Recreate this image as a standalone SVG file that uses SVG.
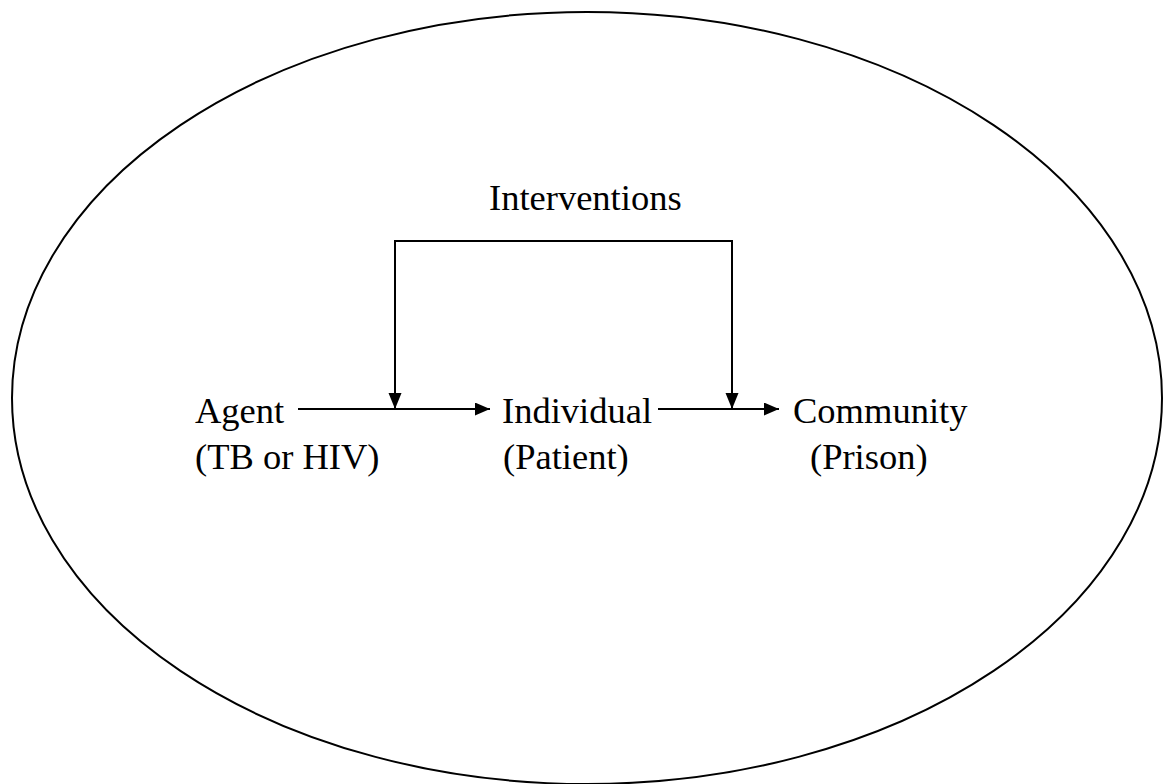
<svg xmlns="http://www.w3.org/2000/svg" width="1163" height="784" viewBox="0 0 1163 784">
<style>
.t{font-family:'Liberation Serif','Times New Roman','DejaVu Serif',serif;font-size:36.5px;fill:#000}
.c{stroke:#000;stroke-width:2;fill:none}
</style>
<defs>
<marker id="ah" markerWidth="15" markerHeight="13" refX="15" refY="6.5" orient="auto" markerUnits="userSpaceOnUse">
<path d="M0,0 L15,6.5 L0,13 Z" fill="#000"/>
</marker>
</defs>
<rect width="1163" height="784" fill="#fff"/>
<g id="boundary">
<ellipse cx="587" cy="398" rx="575" ry="386" fill="none" stroke="#000" stroke-width="2"/>
</g>
<g id="interventions"><text class="t" font-family="Liberation Serif, serif" x="489" y="210">Interventions</text></g>
<g id="agent"><text class="t" font-family="Liberation Serif, serif" x="195" y="423">Agent</text><text class="t" font-family="Liberation Serif, serif" x="195" y="469">(TB or HIV)</text></g>
<g id="individual"><text class="t" font-family="Liberation Serif, serif" x="502" y="423">Individual</text><text class="t" font-family="Liberation Serif, serif" x="503" y="469">(Patient)</text></g>
<g id="community"><text class="t" font-family="Liberation Serif, serif" x="793" y="423">Community</text><text class="t" font-family="Liberation Serif, serif" x="810" y="469">(Prison)</text></g>
<g id="connectors">
<line class="c" x1="298" y1="409" x2="490" y2="409" marker-end="url(#ah)"/>
<line class="c" x1="658" y1="409" x2="779" y2="409" marker-end="url(#ah)"/>
<path class="c" d="M395,409 L395,241 L732,241 L732,409"/>
<path d="M388.5,393 L401.5,393 L395,409 Z" fill="#000"/>
<path d="M725.5,393 L738.5,393 L732,409 Z" fill="#000"/>
</g>
</svg>
